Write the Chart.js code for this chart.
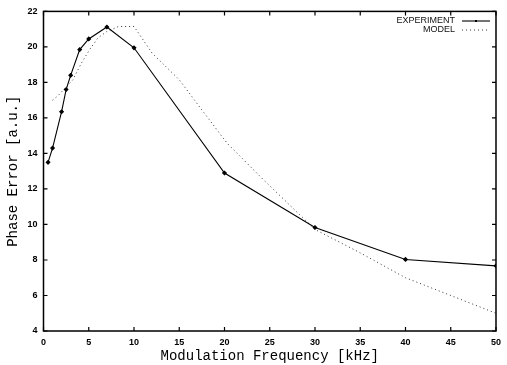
<!DOCTYPE html>
<html>
<head>
<meta charset="utf-8">
<script src="https://cdn.jsdelivr.net/npm/chart.js@4/dist/chart.umd.min.js"></script>
<style>
  html, body { margin: 0; padding: 0; background: #fff; }
  canvas { display: block; }
</style>
</head>
<body>
<canvas id="phaseChart" width="507" height="365"></canvas>
<script>
// values
const expFreq  = [0.5, 1, 2, 2.5, 3, 4, 5, 7, 10, 20, 30, 40, 50];
const expError = [13.5, 14.3, 16.35, 17.6, 18.4, 19.85, 20.45, 21.12, 19.95, 12.9, 9.83, 8.03, 7.67];

const modelFreq  = [1, 1.6, 3.25, 4.2, 5.1, 6, 7, 8.3, 10, 12, 15, 17.5, 20.3, 24.4, 30, 35, 40, 45, 50];
const modelError = [17.0, 17.25, 18.15, 19.1, 19.85, 20.5, 20.87, 21.15, 21.15, 19.65, 18.15, 16.45, 14.57, 12.47, 9.72, 8.4, 7.0, 6.0, 5.0];

const seriesNames = ["EXPERIMENT", "MODEL"];

const toPoints = (xs, ys) => xs.map((x, i) => ({ x: x, y: ys[i] }));

const tickFont = { family: "'Liberation Sans', Arial, sans-serif", size: 9, weight: "bold" };
const titleFont = { family: "'Liberation Mono', 'Courier New', monospace", size: 14 };

// inward ticks on all four sides + box
const frame = {
    id: "frame",
    afterDraw(chart) {
        const ctx = chart.ctx;
        const a = chart.chartArea;
        const xs = chart.scales.x, ys = chart.scales.y;
        ctx.save();
        ctx.strokeStyle = "#000";
        ctx.lineWidth = 1.5;
        ctx.strokeRect(a.left, a.top, a.right - a.left, a.bottom - a.top);
        ctx.lineWidth = 1.2;
        ctx.beginPath();
        xs.ticks.forEach((t, i) => {
            const px = xs.getPixelForTick(i);
            ctx.moveTo(px, a.bottom); ctx.lineTo(px, a.bottom - 4);
            ctx.moveTo(px, a.top); ctx.lineTo(px, a.top + 4);
        });
        ys.ticks.forEach((t, i) => {
            const py = ys.getPixelForTick(i);
            ctx.moveTo(a.left, py); ctx.lineTo(a.left + 4, py);
            ctx.moveTo(a.right, py); ctx.lineTo(a.right - 4, py);
        });
        ctx.stroke();
        ctx.restore();
    }
};

// gnuplot style key, text then sample line
const keyBox = {
    id: "keyBox",
    afterDraw(chart) {
        const ctx = chart.ctx;
        const textRight = 455, lineL = 462, lineR = 490;
        const rows = [21, 30];
        ctx.save();
        ctx.font = "9px 'Liberation Sans', Arial, sans-serif";
        ctx.textAlign = "right";
        ctx.textBaseline = "middle";
        ctx.fillStyle = "#111";
        chart.data.datasets.forEach((ds, i) => {
            const y = rows[i];
            ctx.fillText(seriesNames[i], textRight, y);
            ctx.strokeStyle = ds.borderColor;
            ctx.lineWidth = ds.borderWidth;
            ctx.setLineDash(ds.borderDash || []);
            ctx.beginPath();
            ctx.moveTo(lineL, y);
            ctx.lineTo(lineR, y);
            ctx.stroke();
            ctx.setLineDash([]);
            if (ds.pointRadius > 0) {
                ctx.fillStyle = "#000";
                ctx.fillRect((lineL + lineR) / 2 - 1, y - 1, 2, 2);
                ctx.fillStyle = "#111";
            }
        });
        ctx.restore();
    }
};

const chart = new Chart(document.getElementById("phaseChart").getContext("2d"), {
    type: "scatter",
    data: {
        datasets: [{
            label: seriesNames[0],
            data: toPoints(expFreq, expError),
            showLine: true,
            borderColor: "#000",
            backgroundColor: "#000",
            borderWidth: 1.1,
            pointStyle: "rectRot",
            pointRadius: 1.8,
            pointHoverRadius: 1.8
        }, {
            label: seriesNames[1],
            data: toPoints(modelFreq, modelError),
            showLine: true,
            borderColor: "#333",
            borderWidth: 1,
            borderDash: [1, 3],
            pointRadius: 0
        }]
    },
    options: {
        responsive: false,
        animation: false,
        layout: { padding: { top: 11, right: 5 } },
        plugins: {
            legend: { display: false },
            tooltip: { enabled: false }
        },
        scales: {
            x: {
                type: "linear",
                min: 0,
                max: 50,
                ticks: { stepSize: 5, color: "#000", font: tickFont, padding: 6, maxRotation: 0 },
                grid: { display: false, drawTicks: false },
                border: { display: false },
                title: {
                    display: true,
                    text: "Modulation Frequency [kHz]",
                    color: "#000",
                    font: titleFont,
                    padding: { top: 0, bottom: 0 }
                },
                afterFit(scale) { scale.height = 34; }
            },
            y: {
                type: "linear",
                min: 4,
                max: 22,
                ticks: { stepSize: 2, color: "#000", font: tickFont, padding: 6 },
                grid: { display: false, drawTicks: false },
                border: { display: false },
                title: {
                    display: true,
                    text: "Phase Error [a.u.]",
                    color: "#000",
                    font: titleFont,
                    padding: { top: 5, bottom: 0 }
                },
                afterFit(scale) { scale.width = 43.5; }
            }
        }
    },
    plugins: [frame, keyBox]
});
</script>
</body>
</html>
